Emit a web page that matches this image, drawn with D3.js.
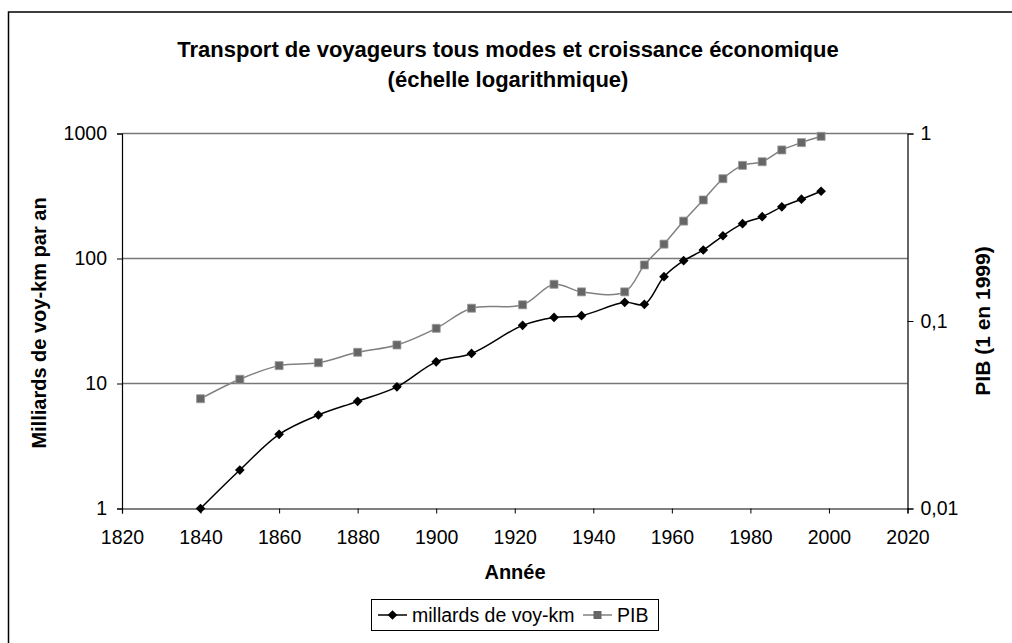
<!DOCTYPE html>
<html>
<head>
<meta charset="utf-8">
<script src="https://cdn.jsdelivr.net/npm/d3@7"></script>
<style>
  body { margin: 0; background: #fff; }
  svg text { font-family: "Liberation Sans", Arial, sans-serif; fill: #000; }
</style>
</head>
<body>
<div id="chart"></div>
<script>
const years = [1840, 1850, 1860, 1870, 1880, 1890, 1900, 1909, 1922, 1930, 1937, 1948, 1953, 1958, 1963, 1968, 1973, 1978, 1983, 1988, 1993, 1998];
const voyKm = [1.0, 2.03, 3.92, 5.6, 7.2, 9.4, 14.9, 17.4, 29.2, 33.8, 34.9, 44.6, 43.0, 71.5, 96, 117, 152, 190, 216, 259, 298, 345];
const pib = [0.0385, 0.0489, 0.0578, 0.0599, 0.0681, 0.0745, 0.0914, 0.117, 0.122, 0.157, 0.143, 0.143, 0.199, 0.257, 0.341, 0.442, 0.574, 0.676, 0.707, 0.817, 0.894, 0.966];
const xTicks = [1820, 1840, 1860, 1880, 1900, 1920, 1940, 1960, 1980, 2000, 2020];
const leftTicks = [1, 10, 100, 1000];
const rightTicks = [0.01, 0.1, 1];
const rightLabels = ["0,01", "0,1", "1"];

const width = 1012, height = 643;
const plot = { left: 122, right: 907.5, top: 133.5, bottom: 508.5 };
const fs = "19.5px";

const svg = d3.select("#chart").append("svg")
    .attr("width", width)
    .attr("height", height);

// outer frame
svg.append("rect")
    .attr("x", 8.5).attr("y", 12)
    .attr("width", 1010).attr("height", 640)
    .attr("fill", "none")
    .attr("stroke", "#000")
    .attr("stroke-width", 1.5);

const x = d3.scaleLinear().domain([1820, 2020]).range([plot.left, plot.right]);
const yL = d3.scaleLog().domain([1, 1000]).range([plot.bottom, plot.top]);
const yR = d3.scaleLog().domain([0.01, 1]).range([plot.bottom, plot.top]);

// gridlines
svg.append("g").selectAll("line")
    .data([10, 100, 1000])
    .enter().append("line")
    .attr("x1", plot.left).attr("x2", plot.right)
    .attr("y1", d => yL(d)).attr("y2", d => yL(d))
    .attr("stroke", "#777")
    .attr("stroke-width", 1.3);

// axes
const xAxis = svg.append("g")
    .attr("transform", `translate(0, ${plot.bottom})`)
    .call(d3.axisBottom(x).tickValues(xTicks).tickFormat(d3.format("d")).tickSizeOuter(0).tickSize(5).tickPadding(17));

const yAxisL = svg.append("g")
    .attr("transform", `translate(${plot.left}, 0)`)
    .call(d3.axisLeft(yL).tickValues(leftTicks).tickFormat(d3.format("d")).tickSizeOuter(0).tickSize(5).tickPadding(10));

const yAxisR = svg.append("g")
    .attr("transform", `translate(${plot.right}, 0)`)
    .call(d3.axisRight(yR).tickValues(rightTicks).tickFormat((d, i) => rightLabels[i]).tickSizeOuter(0).tickSize(6).tickPadding(7));

svg.selectAll(".tick text").style("font-size", fs).style("font-family", "Liberation Sans, Arial");
svg.selectAll(".domain").attr("stroke", "#000").attr("stroke-width", 1.2);
svg.selectAll(".tick line").attr("stroke", "#000");

// lines
const lineL = d3.line()
    .x((d, i) => x(years[i]))
    .y(d => yL(d))
    .curve(d3.curveCatmullRom.alpha(0.5));
const lineR = d3.line()
    .x((d, i) => x(years[i]))
    .y(d => yR(d))
    .curve(d3.curveCatmullRom.alpha(0.5));

svg.append("path")
    .datum(pib)
    .attr("d", lineR)
    .attr("fill", "none")
    .attr("stroke", "#808080")
    .attr("stroke-width", 1.5);

svg.append("path")
    .datum(voyKm)
    .attr("d", lineL)
    .attr("fill", "none")
    .attr("stroke", "#000")
    .attr("stroke-width", 1.5);

const diamond = d3.symbol().type(d3.symbolDiamond2).size(60);
const square = d3.symbol().type(d3.symbolSquare).size(64);

svg.append("g").selectAll("path")
    .data(pib)
    .enter().append("path")
    .attr("d", square)
    .attr("transform", (d, i) => `translate(${x(years[i])}, ${yR(d)})`)
    .attr("fill", "#666")
    .attr("stroke", "#999")
    .attr("stroke-width", 0.8);

svg.append("g").selectAll("path")
    .data(voyKm)
    .enter().append("path")
    .attr("d", diamond)
    .attr("transform", (d, i) => `translate(${x(years[i])}, ${yL(d)})`)
    .attr("fill", "#000");

// titles
svg.append("text")
    .attr("x", 508).attr("y", 57)
    .attr("text-anchor", "middle")
    .style("font-size", "22px").style("font-weight", "bold")
    .text("Transport de voyageurs tous modes et croissance économique");
svg.append("text")
    .attr("x", 508).attr("y", 87)
    .attr("text-anchor", "middle")
    .style("font-size", "22px").style("font-weight", "bold")
    .text("(échelle logarithmique)");

svg.append("text")
    .attr("x", 515).attr("y", 579)
    .attr("text-anchor", "middle")
    .style("font-size", "20px").style("font-weight", "bold")
    .text("Année");

svg.append("text")
    .attr("transform", "translate(46, 323) rotate(-90)")
    .attr("text-anchor", "middle")
    .style("font-size", "20px").style("font-weight", "bold")
    .text("Milliards de voy-km par an");

svg.append("text")
    .attr("transform", "translate(990, 321) rotate(-90)")
    .attr("text-anchor", "middle")
    .style("font-size", "21px").style("font-weight", "bold")
    .text("PIB (1 en 1999)");

// legend
const legend = svg.append("g");
legend.append("rect")
    .attr("x", 371.5).attr("y", 599.5)
    .attr("width", 287).attr("height", 31)
    .attr("fill", "#fff").attr("stroke", "#000");

const legendItems = [
    { label: "millards de voy-km", color: "#000", fill: "#000", sym: diamond, x0: 378, tx: 412 },
    { label: "PIB", color: "#808080", fill: "#666", sym: square, x0: 583, tx: 617 }
];
legendItems.forEach(it => {
    legend.append("line")
        .attr("x1", it.x0).attr("x2", it.x0 + 29)
        .attr("y1", 615).attr("y2", 615)
        .attr("stroke", it.color).attr("stroke-width", 1.5);
    legend.append("path")
        .attr("d", it.sym)
        .attr("transform", `translate(${it.x0 + 14.5}, 615)`)
        .attr("fill", it.fill);
    legend.append("text")
        .attr("x", it.tx).attr("y", 622)
        .style("font-size", fs)
        .text(it.label);
});
</script>
</body>
</html>
